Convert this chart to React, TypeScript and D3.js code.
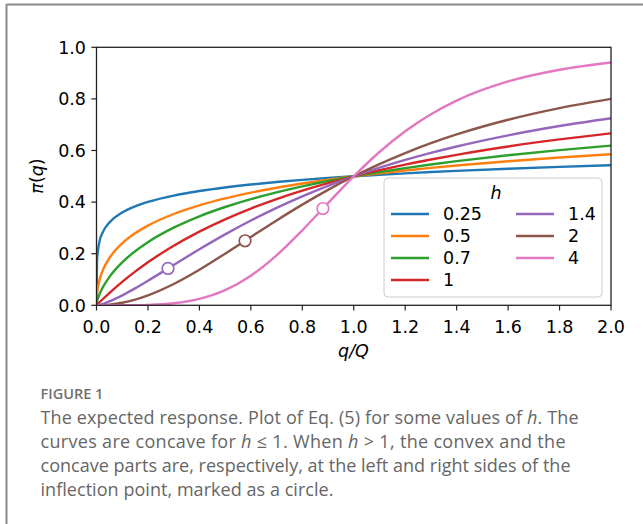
import React from "react";
import * as d3 from "d3";

const qOverQ = [0, 0.002, 0.01, 0.025, 0.05, 0.1, 0.15, 0.2, 0.3, 0.4, 0.5, 0.6, 0.7, 0.8, 0.9, 1.0, 1.1, 1.2, 1.3, 1.4, 1.6, 1.8, 2.0];

const h025 = [0, 0.1746, 0.2402, 0.2845, 0.321, 0.36, 0.3836, 0.4008, 0.4253, 0.443, 0.4568, 0.4681, 0.4777, 0.4861, 0.4934, 0.5, 0.506, 0.5114, 0.5164, 0.521, 0.5293, 0.5367, 0.5432];
const h05 = [0, 0.0428, 0.0909, 0.1365, 0.1827, 0.2402, 0.2792, 0.309, 0.3539, 0.3874, 0.4142, 0.4365, 0.4555, 0.4721, 0.4868, 0.5, 0.5119, 0.5227, 0.5328, 0.542, 0.5585, 0.573, 0.5858];
const h07 = [0, 0.0127, 0.0383, 0.0703, 0.1094, 0.1663, 0.2095, 0.2448, 0.3009, 0.345, 0.381, 0.4116, 0.4379, 0.461, 0.4816, 0.5, 0.5167, 0.5319, 0.5458, 0.5586, 0.5815, 0.6014, 0.619];
const h1 = [0, 0.002, 0.0099, 0.0244, 0.0476, 0.0909, 0.1304, 0.1667, 0.2308, 0.2857, 0.3333, 0.375, 0.4118, 0.4444, 0.4737, 0.5, 0.5238, 0.5455, 0.5652, 0.5833, 0.6154, 0.6429, 0.6667];
const h14 = [0, 0.0002, 0.0016, 0.0057, 0.0149, 0.0383, 0.0656, 0.0951, 0.1563, 0.2171, 0.2748, 0.3285, 0.3777, 0.4225, 0.4632, 0.5, 0.5333, 0.5635, 0.5908, 0.6156, 0.6588, 0.6949, 0.7252];
const h2 = [0, 0, 0.0001, 0.0006, 0.0025, 0.0099, 0.022, 0.0385, 0.0826, 0.1379, 0.2, 0.2647, 0.3289, 0.3902, 0.4475, 0.5, 0.5475, 0.5902, 0.6283, 0.6622, 0.7191, 0.7642, 0.8];
const h4 = [0, 0, 0, 0, 0, 0.0001, 0.0005, 0.0016, 0.008, 0.025, 0.0588, 0.1147, 0.1936, 0.2906, 0.3962, 0.5, 0.5942, 0.6747, 0.7407, 0.7935, 0.8676, 0.913, 0.9412];

const hLabels = ["0.25", "0.5", "0.7", "1", "1.4", "2", "4"];
const seriesValues = [h025, h05, h07, h1, h14, h2, h4];
const colors = ["#1f77b4", "#ff7f0e", "#2ca02c", "#d62728", "#9467bd", "#8c564b", "#e377c2"];

// inflection points (h = 1.4, 2, 4)
const inflectX = [0.278, 0.5774, 0.8801];
const inflectY = [0.1429, 0.25, 0.375];
const inflectSeries = [4, 5, 6];

const xTicks = [0, 0.2, 0.4, 0.6, 0.8, 1.0, 1.2, 1.4, 1.6, 1.8, 2.0];
const yTicks = [0, 0.2, 0.4, 0.6, 0.8, 1.0];

const captionLines = [
  [{ t: "The expected response. Plot of Eq. (5) for some values of " }, { t: "h", i: true }, { t: ". The" }],
  [{ t: "curves are concave for " }, { t: "h", i: true }, { t: " \u2264 1. When " }, { t: "h", i: true }, { t: " > 1, the convex and the" }],
  [{ t: "concave parts are, respectively, at the left and right sides of the" }],
  [{ t: "inflection point, marked as a circle." }],
];
const captionWidths = [538, 525, 530, 293];

export default function App() {
  const W = 643, H = 524;
  const x = d3.scaleLinear().domain([0, 2]).range([96.5, 611]);
  const y = d3.scaleLinear().domain([0, 1]).range([305.3, 47.3]);
  const line = (vals: number[]) =>
    d3.line<number>()
      .x((_, i) => x(qOverQ[i]))
      .y((v) => y(v))
      .curve(d3.curveMonotoneX)(vals) as string;

  const tickFont = "'DejaVu Sans', sans-serif";
  const fs = 17.5;

  const legX = 384, legY = 178, legW = 218, legH = 119;
  const rowY = [214, 236, 258, 280];

  return (
    <svg width={W} height={H} style={{ position: "absolute", left: 0, top: 0, background: "#fff" }}>
      <rect x={0} y={0} width={W} height={H} fill="#fff" />
      <line x1={6.5} y1={4} x2={6.5} y2={H} stroke="#8a8a8a" strokeWidth={2} />
      <line x1={6.5} y1={4.5} x2={643} y2={4.5} stroke="#8a8a8a" strokeWidth={2} />

      <defs>
        <clipPath id="plotclip">
          <rect x={96.5} y={47.3} width={611 - 96.5} height={305.3 - 47.3} />
        </clipPath>
      </defs>

      <g clipPath="url(#plotclip)">
        {seriesValues.map((vals, k) => (
          <path key={k} d={line(vals)} fill="none" stroke={colors[k]} strokeWidth={2.4} strokeLinejoin="round" />
        ))}
      </g>
      {inflectX.map((v, k) => (
        <circle key={k} cx={x(v)} cy={y(inflectY[k])} r={5.8} fill="#fff" stroke={colors[inflectSeries[k]]} strokeWidth={1.7} />
      ))}

      <rect x={96.5} y={47.3} width={611 - 96.5} height={305.3 - 47.3} fill="none" stroke="#222" strokeWidth={1.3} />

      {xTicks.map((t) => (
        <g key={"x" + t}>
          <line x1={x(t)} x2={x(t)} y1={305.3} y2={310.5} stroke="#222" strokeWidth={1.2} />
          <text x={x(t)} y={333} textAnchor="middle" fontFamily={tickFont} fontSize={fs} fill="#000">
            {t.toFixed(1)}
          </text>
        </g>
      ))}
      {yTicks.map((t) => (
        <g key={"y" + t}>
          <line x1={91.3} x2={96.5} y1={y(t)} y2={y(t)} stroke="#222" strokeWidth={1.2} />
          <text x={86} y={y(t) + 6.3} textAnchor="end" fontFamily={tickFont} fontSize={fs} fill="#000">
            {t.toFixed(1)}
          </text>
        </g>
      ))}

      <text x={353.5} y={357} textAnchor="middle" fontFamily={tickFont} fontSize={fs} fill="#000" fontStyle="italic">
        q/Q
      </text>
      <text transform="translate(43,176) rotate(-90)" textAnchor="middle" fontFamily={tickFont} fontSize={fs} fill="#000">
        <tspan fontStyle="italic">π</tspan>
        <tspan>(</tspan>
        <tspan fontStyle="italic">q</tspan>
        <tspan>)</tspan>
      </text>

      <rect x={legX} y={legY} width={legW} height={legH} rx={4} fill="#fff" fillOpacity={0.8} stroke="#cccccc" strokeWidth={1} />
      <text x={legX + legW / 2 + 3} y={199} textAnchor="middle" fontFamily={tickFont} fontSize={fs} fontStyle="italic" fill="#000">
        h
      </text>
      {hLabels.map((lab, k) => {
        const col = k < 4 ? 0 : 1;
        const row = k < 4 ? k : k - 4;
        const lx = col === 0 ? 391 : 516;
        const ty = rowY[row];
        return (
          <g key={lab}>
            <line x1={lx} x2={lx + 38} y1={ty} y2={ty} stroke={colors[k]} strokeWidth={2.4} />
            <text x={lx + 52} y={ty + 6.3} fontFamily={tickFont} fontSize={fs} fill="#000">
              {lab}
            </text>
          </g>
        );
      })}

      <text x={40.5} y={399} fontFamily="'Open Sans', sans-serif" fontSize={14.5} fill="#707070" fontWeight={600}>
        FIGURE 1
      </text>
      {captionLines.map((ln, i) => (
        <text key={i} x={40.5} y={424 + i * 24} fontFamily="'Open Sans', sans-serif" fontSize={18} fill="#666"
          textLength={captionWidths[i]} lengthAdjust="spacing">
          {ln.map((s, j) => (
            <tspan key={j} fontStyle={s.i ? "italic" : "normal"}>{s.t}</tspan>
          ))}
        </text>
      ))}
    </svg>
  );
}
